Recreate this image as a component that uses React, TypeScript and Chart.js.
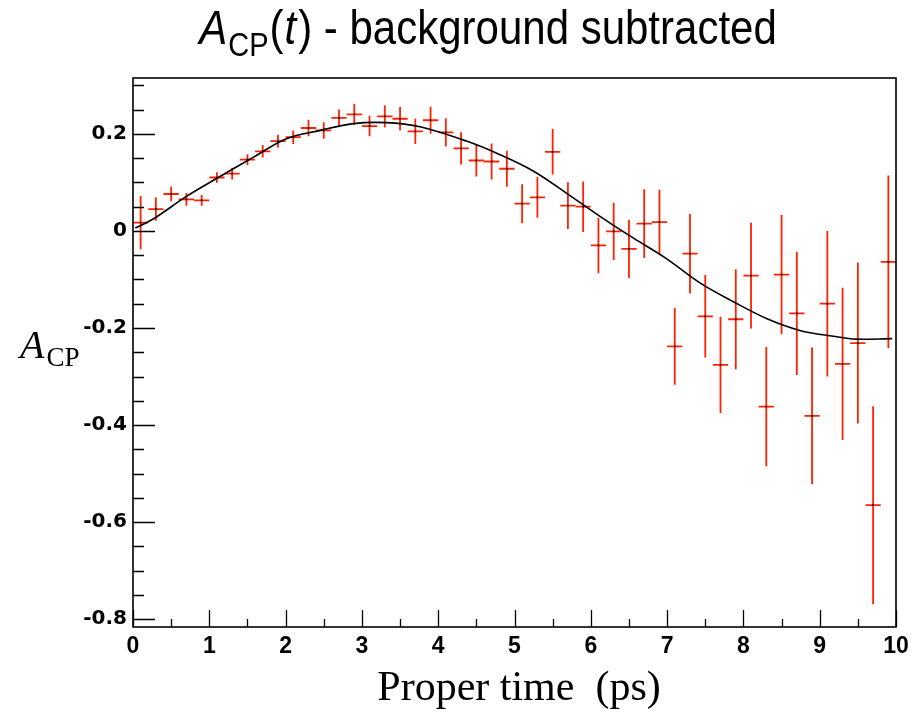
import React, { useEffect, useRef } from "react";
import { Chart, registerables } from "chart.js";

Chart.register(...registerables);

// ---- data ----
const binCenters = [
  0.1, 0.3, 0.5, 0.7, 0.9, 1.1, 1.3, 1.5, 1.7, 1.9,
  2.1, 2.3, 2.5, 2.7, 2.9, 3.1, 3.3, 3.5, 3.7, 3.9,
  4.1, 4.3, 4.5, 4.7, 4.9, 5.1, 5.3, 5.5, 5.7, 5.9,
  6.1, 6.3, 6.5, 6.7, 6.9, 7.1, 7.3, 7.5, 7.7, 7.9,
  8.1, 8.3, 8.5, 8.7, 8.9, 9.1, 9.3, 9.5, 9.7, 9.9,
];
const binWidth = 0.2;
const asymValues = [
  0.017, 0.045, 0.076, 0.065, 0.063, 0.110, 0.118, 0.147, 0.164, 0.185,
  0.193, 0.212, 0.207, 0.233, 0.240, 0.216, 0.236, 0.231, 0.205, 0.228,
  0.203, 0.170, 0.145, 0.143, 0.128, 0.056, 0.069, 0.163, 0.052, 0.050,
  -0.030, -0.001, -0.037, 0.015, 0.018, -0.238, -0.047, -0.176, -0.276, -0.182,
  -0.092, -0.362, -0.090, -0.170, -0.381, -0.150, -0.274, -0.231, -0.565, -0.064,
];
const asymErrors = [
  0.055, 0.024, 0.015, 0.013, 0.011, 0.011, 0.012, 0.011, 0.013, 0.013,
  0.014, 0.017, 0.017, 0.017, 0.022, 0.021, 0.023, 0.024, 0.026, 0.028,
  0.029, 0.033, 0.033, 0.037, 0.037, 0.040, 0.042, 0.047, 0.048, 0.052,
  0.057, 0.059, 0.060, 0.071, 0.067, 0.079, 0.082, 0.085, 0.099, 0.103,
  0.109, 0.123, 0.123, 0.127, 0.141, 0.150, 0.157, 0.166, 0.204, 0.178,
];
const fitTimes = [
  0.03, 0.27, 0.70, 1.14, 1.58, 2.01, 2.45, 2.89, 3.32, 3.76,
  4.37, 4.81, 5.25, 5.68, 6.12, 6.56, 6.99, 7.43, 7.87, 8.31,
  8.74, 9.18, 9.48, 9.95,
];
const fitValues = [
  0.006, 0.025, 0.071, 0.112, 0.152, 0.190, 0.207, 0.221, 0.223, 0.2145,
  0.185, 0.157, 0.123, 0.078, 0.030, -0.015, -0.057, -0.107, -0.146, -0.181,
  -0.205, -0.217, -0.223, -0.222,
];
const xTickValues = [0, 1, 2, 3, 4, 5, 6, 7, 8, 9, 10];
const xTickLabels = ["0", "1", "2", "3", "4", "5", "6", "7", "8", "9", "10"];
const yTickValues = [-0.8, -0.6, -0.4, -0.2, 0, 0.2];
const yTickLabels = ["-0.8", "-0.6", "-0.4", "-0.2", "0", "0.2"];
const xMinorStep = 0.5;
const yMinorStep = 0.05;
const xRange = [0, 10];
const yRange = [-0.816, 0.315];

const titleParts = ["A", "CP", "(", "t", ") - background subtracted"];
const yTitleParts = ["A", "CP"];
const xTitle = "Proper time  (ps)";

const RED = "#ff2200";

const errorBarPlugin = {
  id: "errorBars",
  beforeDatasetsDraw(chart: any) {
    const { ctx, scales } = chart;
    const x = scales.x;
    const y = scales.y;
    const area = chart.chartArea;
    ctx.save();
    ctx.beginPath();
    ctx.rect(area.left, area.top, area.right - area.left, area.bottom - area.top);
    ctx.clip();
    ctx.strokeStyle = RED;
    ctx.lineWidth = 1.8;
    for (let i = 0; i < binCenters.length; i++) {
      const c = binCenters[i];
      const v = asymValues[i];
      const e = asymErrors[i];
      const px = x.getPixelForValue(c);
      const py = y.getPixelForValue(v);
      const pl = x.getPixelForValue(c - binWidth / 2);
      const pr = x.getPixelForValue(c + binWidth / 2);
      const pt = y.getPixelForValue(v + e);
      const pb = y.getPixelForValue(v - e);
      ctx.beginPath();
      ctx.moveTo(pl, py);
      ctx.lineTo(pr, py);
      ctx.moveTo(px, pt);
      ctx.lineTo(px, pb);
      ctx.stroke();
    }
    ctx.restore();
  },
};

const framePlugin = {
  id: "frameTicks",
  afterDatasetsDraw(chart: any) {
    const { ctx, scales } = chart;
    const x = scales.x;
    const y = scales.y;
    const a = chart.chartArea;
    ctx.save();
    ctx.strokeStyle = "#000";
    ctx.lineWidth = 1.6;
    ctx.strokeRect(a.left, a.top, a.right - a.left, a.bottom - a.top);
    ctx.lineWidth = 1.3;
    ctx.beginPath();
    // y ticks (inward from left axis)
    const yStart = Math.ceil((yRange[0] - 1e-9) / yMinorStep);
    const yEnd = Math.floor((yRange[1] + 1e-9) / yMinorStep);
    for (let k = yStart; k <= yEnd; k++) {
      const v = k * yMinorStep;
      const major = Math.abs(v / 0.2 - Math.round(v / 0.2)) < 1e-6;
      const py = Math.round(y.getPixelForValue(v)) + 0.5;
      ctx.moveTo(a.left, py);
      ctx.lineTo(a.left + (major ? 22 : 11), py);
    }
    // x ticks (inward from bottom axis)
    const xStart = Math.ceil(xRange[0] / xMinorStep);
    const xEnd = Math.floor(xRange[1] / xMinorStep);
    for (let k = xStart; k <= xEnd; k++) {
      const v = k * xMinorStep;
      const major = Math.abs(v - Math.round(v)) < 1e-6;
      const px = Math.round(x.getPixelForValue(v)) + 0.5;
      ctx.moveTo(px, a.bottom);
      ctx.lineTo(px, a.bottom - (major ? 17 : 8));
    }
    ctx.stroke();
    ctx.restore();
  },
};

const textPlugin = {
  id: "texts",
  afterDraw(chart: any) {
    const { ctx } = chart;
    ctx.save();
    ctx.fillStyle = "#000";
    ctx.textBaseline = "alphabetic";
    ctx.textAlign = "left";

    // Title with mixed styles
    const big = 42;
    const small = 29;
    const fonts = [
      `italic ${big}px 'Liberation Sans', Arial, sans-serif`,
      `${small}px 'Liberation Sans', Arial, sans-serif`,
      `${big}px 'Liberation Sans', Arial, sans-serif`,
      `italic ${big}px 'Liberation Sans', Arial, sans-serif`,
      `${big}px 'Liberation Sans', Arial, sans-serif`,
    ];
    const offsets = [0, 10, 0, 0, 0];
    const gaps = [1, 1, 1, 2, 0];
    let total = 0;
    const widths: number[] = [];
    titleParts.forEach((p, i) => {
      ctx.font = fonts[i];
      const w = ctx.measureText(p).width;
      widths.push(w);
      total += w + gaps[i];
    });
    let tx = 488 - total / 2;
    ctx.translate(0, 44);
    ctx.scale(1, 1.15);
    titleParts.forEach((p, i) => {
      ctx.font = fonts[i];
      ctx.fillText(p, tx, offsets[i]);
      tx += widths[i] + gaps[i];
    });
    ctx.setTransform(1, 0, 0, 1, 0, 0);

    // Y axis title
    ctx.font = `italic 40px 'Liberation Serif', 'Times New Roman', serif`;
    ctx.fillText(yTitleParts[0], 20, 358);
    const wa = ctx.measureText(yTitleParts[0]).width;
    ctx.font = `27px 'Liberation Serif', 'Times New Roman', serif`;
    ctx.fillText(yTitleParts[1], 20 + wa + 2, 366);

    // X axis title
    ctx.font = `42px 'Liberation Serif', 'Times New Roman', serif`;
    ctx.textAlign = "center";
    ctx.fillText(xTitle, 519, 700);
    ctx.restore();
  },
};

export default function App() {
  const canvasRef = useRef<HTMLCanvasElement | null>(null);

  useEffect(() => {
    const canvas = canvasRef.current;
    if (!canvas) return;
    const chart = new Chart(canvas, {
      type: "scatter",
      data: {
        datasets: [
          {
            type: "scatter",
            label: "points",
            data: binCenters.map((c, i) => ({ x: c, y: asymValues[i] })),
            pointRadius: 1.2,
            pointStyle: "rect",
            pointBackgroundColor: "#000",
            pointBorderColor: "#000",
            pointBorderWidth: 0,
            showLine: false,
          } as any,
          {
            type: "line",
            label: "fit",
            data: fitTimes.map((t, i) => ({ x: t, y: fitValues[i] })),
            borderColor: "#000",
            borderWidth: 1.6,
            pointRadius: 0,
            tension: 0.35,
            fill: false,
          } as any,
        ],
      },
      options: {
        animation: false,
        responsive: false,
        devicePixelRatio: 1,
        layout: { padding: { top: 78, right: 24, left: 0, bottom: 0 } },
        plugins: {
          legend: { display: false },
          tooltip: { enabled: false },
          title: { display: false },
        },
        scales: {
          x: {
            type: "linear",
            min: xRange[0],
            max: xRange[1],
            grid: { display: false, drawTicks: false },
            border: { display: false },
            ticks: {
              color: "#000",
              padding: 6,
              maxRotation: 0,
              autoSkip: false,
              font: { family: "'Liberation Sans', Arial, sans-serif", size: 23, weight: "bold" },
              callback: (_v: any, i: number) => xTickLabels[i],
            },
            afterBuildTicks: (s: any) => {
              s.ticks = xTickValues.map((v) => ({ value: v }));
            },
            afterFit: (s: any) => {
              s.height = 85;
            },
          },
          y: {
            type: "linear",
            min: yRange[0],
            max: yRange[1],
            grid: { display: false, drawTicks: false },
            border: { display: false },
            ticks: {
              color: "#000",
              padding: 6,
              autoSkip: false,
              font: { family: "'DejaVu Sans', sans-serif", size: 20, weight: "bold" },
              callback: (_v: any, i: number) => yTickLabels[i],
            },
            afterBuildTicks: (s: any) => {
              s.ticks = yTickValues.map((v) => ({ value: v }));
            },
            afterFit: (s: any) => {
              s.width = 133;
            },
          },
        },
      } as any,
      plugins: [errorBarPlugin, framePlugin, textPlugin],
    });
    return () => chart.destroy();
  }, []);

  return (
    <div style={{ position: "absolute", left: 0, top: 0, width: 920, height: 712, background: "#fff" }}>
      <canvas ref={canvasRef} width={920} height={712} style={{ display: "block" }} />
    </div>
  );
}
